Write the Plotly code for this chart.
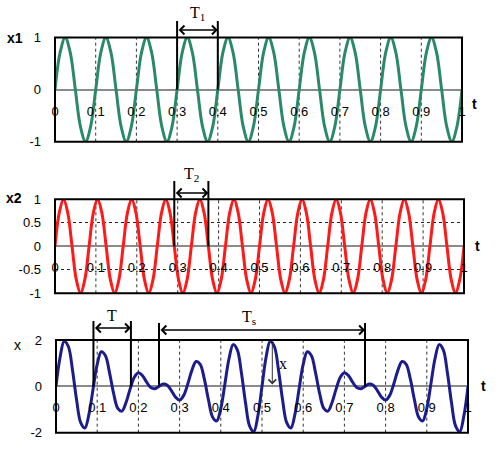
import numpy as np
import plotly.graph_objects as go

# ---------------- data ----------------
t_x1 = np.linspace(0, 1, 81)          # sample times for x1
x1 = [0, 0.71, 1, 0.71, 0, -0.71, -1, -0.71,
      0, 0.71, 1, 0.71, 0, -0.71, -1, -0.71,
      0, 0.71, 1, 0.71, 0, -0.71, -1, -0.71,
      0, 0.71, 1, 0.71, 0, -0.71, -1, -0.71,
      0, 0.71, 1, 0.71, 0, -0.71, -1, -0.71,
      0, 0.71, 1, 0.71, 0, -0.71, -1, -0.71,
      0, 0.71, 1, 0.71, 0, -0.71, -1, -0.71,
      0, 0.71, 1, 0.71, 0, -0.71, -1, -0.71,
      0, 0.71, 1, 0.71, 0, -0.71, -1, -0.71,
      0, 0.71, 1, 0.71, 0, -0.71, -1, -0.71,
      0]

t_x2 = np.linspace(0, 1, 97)          # sample times for x2
x2 = [0, 0.71, 1, 0.71, 0, -0.71, -1, -0.71,
      0, 0.71, 1, 0.71, 0, -0.71, -1, -0.71,
      0, 0.71, 1, 0.71, 0, -0.71, -1, -0.71,
      0, 0.71, 1, 0.71, 0, -0.71, -1, -0.71,
      0, 0.71, 1, 0.71, 0, -0.71, -1, -0.71,
      0, 0.71, 1, 0.71, 0, -0.71, -1, -0.71,
      0, 0.71, 1, 0.71, 0, -0.71, -1, -0.71,
      0, 0.71, 1, 0.71, 0, -0.71, -1, -0.71,
      0, 0.71, 1, 0.71, 0, -0.71, -1, -0.71,
      0, 0.71, 1, 0.71, 0, -0.71, -1, -0.71,
      0, 0.71, 1, 0.71, 0, -0.71, -1, -0.71,
      0, 0.71, 1, 0.71, 0, -0.71, -1, -0.71,
      0]

t_x = np.linspace(0, 1, 101)          # sample times for x
x = [0, 1.27, 1.95, 1.72, 0.71, -0.59, -1.57, -1.80, -1.20, -0.11,
     0.95, 1.49, 1.32, 0.58, -0.32, -0.95, -1.07, -0.70, -0.11, 0.39,
     0.59, 0.46, 0.18, -0.05, -0.10, 0, 0.10, 0.05, -0.18, -0.46,
     -0.59, -0.39, 0.11, 0.70, 1.07, 0.95, 0.32, -0.58, -1.32, -1.49,
     -0.95, 0.11, 1.20, 1.80, 1.57, 0.59, -0.71, -1.72, -1.95, -1.27,
     0, 1.27, 1.95, 1.72, 0.71, -0.59, -1.57, -1.80, -1.20, -0.11,
     0.95, 1.49, 1.32, 0.58, -0.32, -0.95, -1.07, -0.70, -0.11, 0.39,
     0.59, 0.46, 0.18, -0.05, -0.10, 0, 0.10, 0.05, -0.18, -0.46,
     -0.59, -0.39, 0.11, 0.70, 1.07, 0.95, 0.32, -0.58, -1.32, -1.49,
     -0.95, 0.11, 1.20, 1.80, 1.57, 0.59, -0.71, -1.72, -1.95, -1.27,
     0]

t_ticks = [0, 0.1, 0.2, 0.3, 0.4, 0.5, 0.6, 0.7, 0.8, 0.9, 1]
t_ticktext = ["0", "0.1", "0.2", "0.3", "0.4", "0.5", "0.6", "0.7", "0.8", "0.9", "1"]
t_grid = [0.1, 0.2, 0.3, 0.4, 0.5, 0.6, 0.7, 0.8, 0.9]

y1_ticks = [-1, 0, 1]
y1_ticktext = ["-1", "0", "1"]
y2_ticks = [-1, -0.5, 0, 0.5, 1]
y2_ticktext = ["-1", "-0.5", "0", "0.5", "1"]
y3_ticks = [-2, 0, 2]
y3_ticktext = ["-2", "0", "2"]

# period markers (t positions)
T1_marks = [0.3, 0.4]
T2_marks = [7 / 24, 9 / 24]
T_marks = [1 / 11, 2 / 11]
Ts_marks = [0.25, 0.75]
x_mark_t = 0.525

# ---------------- figure ----------------
W, H = 500, 455
def py(p):
    return 1 - p / H
def px(p):
    return p / W

GREEN = "#2a8a68"
RED = "#ff1a1a"
NAVY = "#1c1c8c"
FONT = "Liberation Sans, Arial, sans-serif"
SERIF = "Liberation Serif, Times New Roman, serif"

dom = {
    1: dict(x=[px(55), px(462)], y=[py(141.7), py(37.5)]),
    2: dict(x=[px(55), px(464)], y=[py(293.3), py(199.3)]),
    3: dict(x=[px(56), px(468)], y=[py(432.7), py(340)]),
}

fig = go.Figure()
fig.add_trace(go.Scatter(x=t_x1, y=x1, mode="lines", line=dict(color=GREEN, width=3, shape="spline"),
                         xaxis="x", yaxis="y", hoverinfo="skip"))
fig.add_trace(go.Scatter(x=t_x2, y=x2, mode="lines", line=dict(color=RED, width=3, shape="spline"),
                         xaxis="x2", yaxis="y2", hoverinfo="skip"))
fig.add_trace(go.Scatter(x=t_x, y=x, mode="lines", line=dict(color=NAVY, width=3, shape="spline"),
                         xaxis="x3", yaxis="y3", hoverinfo="skip"))

layout = dict(width=W, height=H, margin=dict(l=0, r=0, t=0, b=0, pad=0, autoexpand=False),
              paper_bgcolor="white", plot_bgcolor="white", showlegend=False,
              font=dict(family=FONT, size=13, color="black"))

yspec = {1: (y1_ticks, y1_ticktext, [-1, 1], False),
         2: (y2_ticks, y2_ticktext, [-1, 1], True),
         3: (y3_ticks, y3_ticktext, [-2, 2], False)}

shapes = []
for i in (1, 2, 3):
    sx = "" if i == 1 else str(i)
    ymid = (dom[i]["y"][0] + dom[i]["y"][1]) / 2
    layout["xaxis" + sx] = dict(domain=dom[i]["x"], anchor="free", position=ymid, range=[0, 1],
                                tickvals=t_ticks, ticktext=t_ticktext, ticks="", showline=False,
                                showgrid=False, zeroline=False, ticklabelstandoff=12, automargin=False,
                                tickfont=dict(size=13, color="black"), fixedrange=True)
    tv, tt, rg, grid = yspec[i]
    layout["yaxis" + sx] = dict(domain=dom[i]["y"], anchor="x" + sx, range=rg, tickvals=tv, ticktext=tt,
                                ticks="", showline=False, showgrid=grid, gridcolor="#222222",
                                griddash="dot", gridwidth=1, zeroline=True, zerolinecolor="#8a8a8a",
                                zerolinewidth=1.5, ticklabelstandoff=13, automargin=False,
                                tickfont=dict(size=13, color="black"), fixedrange=True)
    for g in t_grid:
        shapes.append(dict(type="line", xref="x" + sx, yref="y" + sx + " domain", x0=g, x1=g, y0=0, y1=1,
                           line=dict(color="#333333", width=1, dash="dot"), layer="below"))
    shapes.append(dict(type="rect", xref="x" + sx + " domain", yref="y" + sx + " domain",
                       x0=0, x1=1, y0=0, y1=1, line=dict(color="black", width=2), layer="above"))

annotations = []

def label(text, xx, yy, xref="paper", yref="paper", family=FONT, size=14):
    annotations.append(dict(x=xx, y=yy, xref=xref, yref=yref, text=text, showarrow=False,
                            xanchor="center", yanchor="middle",
                            font=dict(family=family, size=size, color="black")))

def period_marker(ax_id, marks, top_px, arrow_px, text, label_x, label_px):
    sx = "" if ax_id == 1 else str(ax_id)
    zero = (dom[ax_id]["y"][0] + dom[ax_id]["y"][1]) / 2
    for m in marks:
        shapes.append(dict(type="line", xref="x" + sx, yref="paper", x0=m, x1=m,
                           y0=zero, y1=py(top_px), line=dict(color="black", width=2), layer="above"))
    annotations.append(dict(x=marks[1], y=py(arrow_px), ax=marks[0], ay=0, xref="x" + sx,
                            yref="paper", axref="x" + sx, ayref="pixel",
                            text="", showarrow=True, arrowside="end+start", arrowhead=4,
                            arrowsize=1.15, arrowwidth=1.5, arrowcolor="black", standoff=0, startstandoff=0))
    label(text, label_x, py(label_px), xref="x" + sx, family=SERIF, size=16)

period_marker(1, T1_marks, 21, 30, "T<sub>1</sub>", 0.35, 13)
period_marker(2, T2_marks, 181, 193, "T<sub>2</sub>", 1 / 3, 174)
period_marker(3, T_marks, 321, 328, "T", 3 / 22, 315)
period_marker(3, Ts_marks, 323, 330, "T<sub>s</sub>", 0.468, 317)

# amplitude arrow
annotations.append(dict(x=x_mark_t, y=0.08, ax=x_mark_t, ay=1.95, xref="x3", yref="y3", axref="x3", ayref="y3",
                        text="", showarrow=True, arrowhead=4, arrowsize=1.5, arrowwidth=1,
                        arrowcolor="#333333", standoff=0))
label("x", 0.552, 1.0, xref="x3", yref="y3", family=SERIF, size=16)

# axis titles
for txt, xx, yy, bold in [("x1", 15, 37.5, True), ("x2", 14, 198, True), ("x", 17, 345, False),
                          ("t", 474, 104, True), ("t", 477, 246, True), ("t", 483, 386, True)]:
    label(f"<b>{txt}</b>" if bold else txt, px(xx), py(yy))

layout["shapes"] = shapes
layout["annotations"] = annotations
fig.update_layout(**layout)
fig.write_html("out.html", config={"displayModeBar": False},
               post_script="document.body.style.margin='0';document.body.style.overflow='hidden';")
